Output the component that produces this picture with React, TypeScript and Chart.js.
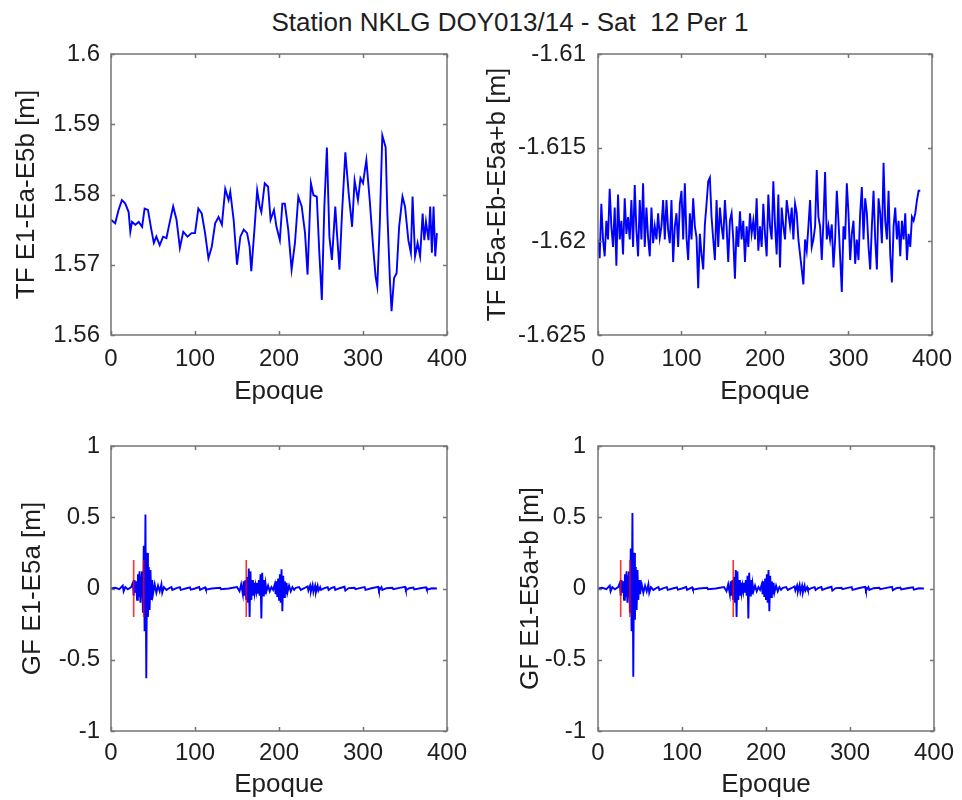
import React, { useEffect, useRef } from "react";
import { Chart, registerables } from "chart.js";

Chart.register(...registerables);

const FONT = "'Liberation Sans', Arial, Helvetica, sans-serif";
const TEXT = "#1e1e1e";
const AXIS = "#747474";
const BLUE = "#0000ff";
const RED = "rgba(255,0,0,0.8)";

const figureTitle = "Station NKLG DOY013/14 - Sat  12 Per 1";
const xTitle = "Epoque";

const xTicks = [0, 100, 200, 300, 400];
const xTickLabels = ["0", "100", "200", "300", "400"];

const tlTicks = [1.56, 1.57, 1.58, 1.59, 1.6];
const tlTickLabels = ["1.56", "1.57", "1.58", "1.59", "1.6"];
const trTicks = [-1.625, -1.62, -1.615, -1.61];
const trTickLabels = ["-1.625", "-1.62", "-1.615", "-1.61"];
const gfTicks = [-1, -0.5, 0, 0.5, 1];
const gfTickLabels = ["-1", "-0.5", "0", "0.5", "1"];

// TF E1-Ea-E5b
const tlEpoch = [0,5,9,13,17,21,23,25,29,33,37,40,44,48,51,54,58,62,66,70,74,78,82,86,91,96,100,104,108,112,116,120,124,128,132,136,140,142,146,150,154,158,162,165,167,171,174,177,179,183,187,190,194,197,201,204,207,211,215,219,223,227,231,234,238,241,245,248,251,254,257,260,263,267,269,272,275,279,283,287,290,294,297,300,304,308,312,315,317,320,323,327,329,332,334,337,340,343,347,350,354,357,359,362,365,368,371,373,375,378,380,382,384,386,388];
const tlValue = [1.5764,1.5759,1.5778,1.5792,1.5787,1.5775,1.5747,1.5761,1.5757,1.5761,
1.5754,1.5780,1.5778,1.5750,1.5731,1.5740,1.5728,1.5740,1.5738,1.5761,
1.5783,1.5764,1.5724,1.5747,1.5740,1.5745,1.5745,1.5780,1.5773,1.5745,
1.5709,1.5726,1.5759,1.5768,1.5757,1.5808,1.5792,1.5804,1.5764,1.5700,
1.5740,1.5750,1.5745,1.5726,1.5691,1.5754,1.5806,1.5783,1.5775,1.5816,
1.5811,1.5764,1.5778,1.5754,1.5735,1.5787,1.5787,1.5750,1.5693,1.5731,
1.5797,1.5783,1.5745,1.5686,1.5816,1.5799,1.5797,1.5717,1.5650,1.5783,
1.5867,1.5740,1.5707,1.5783,1.5745,1.5693,1.5773,1.5860,1.5801,1.5754,
1.5820,1.5792,1.5823,1.5816,1.5849,1.5792,1.5726,1.5683,1.5669,1.5759,
1.5884,1.5867,1.5773,1.5679,1.5634,1.5681,1.5688,1.5754,1.5797,1.5783,
1.5735,1.5717,1.5797,1.5712,1.5731,1.5712,1.5773,1.5735,1.5761,1.5735,
1.5783,1.5717,1.5783,1.5712,1.5745];

// TF E5a-Eb-E5a+b
const trEpoch = [0,2,4,6,8,10,12,14,16,18,20,22,24,26,28,30,32,34,36,38,40,42,44,46,48,50,52,54,56,58,60,62,64,66,68,70,72,74,76,78,80,82,84,86,88,90,92,94,96,98,100,102,104,106,108,110,112,114,116,118,120,122,124,126,128,130,132,134,136,138,140,142,144,146,148,150,152,154,156,158,160,162,164,166,168,170,172,174,176,178,180,182,184,186,188,190,192,194,196,198,200,202,204,206,208,210,212,214,216,218,220,222,224,226,228,230,232,234,236,238,240,242,244,246,248,250,252,254,256,258,260,262,264,266,268,270,272,274,276,278,280,282,284,286,288,290,292,294,296,298,300,302,304,306,308,310,312,314,316,318,320,322,324,326,328,330,332,334,336,338,340,342,344,346,348,350,352,354,356,358,360,362,364,366,368,370,372,374,376,378,380,382,384,386];
const trValue = [
-1.6199,-1.6209,-1.6180,-1.6199,-1.6208,-1.6189,-1.6199,-1.6172,-1.6192,-1.6203,
-1.6182,-1.6213,-1.6175,-1.6199,-1.6189,-1.6207,-1.6177,-1.6196,-1.6187,-1.6199,
-1.6178,-1.6203,-1.6170,-1.6194,-1.6208,-1.6178,-1.6199,-1.6169,-1.6203,-1.6182,
-1.6198,-1.6208,-1.6182,-1.6201,-1.6192,-1.6199,-1.6185,-1.6198,-1.6192,-1.6178,
-1.6199,-1.6178,-1.6194,-1.6201,-1.6178,-1.6211,-1.6192,-1.6185,-1.6203,
-1.6180,-1.6173,-1.6199,-1.6169,-1.6198,-1.6210,-1.6185,-1.6199,-1.6177,-1.6192,
-1.6198,-1.6225,-1.6196,-1.6207,-1.6215,-1.6191,-1.6180,-1.6168,-1.6166,-1.6187,
-1.6199,-1.6210,-1.6178,-1.6203,-1.6182,-1.6192,-1.6199,-1.6178,-1.6192,-1.6211,
-1.6189,-1.6185,-1.6199,-1.6220,-1.6192,-1.6203,-1.6184,-1.6199,-1.6189,-1.6211,
-1.6192,-1.6203,-1.6185,-1.6196,-1.6189,-1.6199,-1.6177,-1.6205,
-1.6192,-1.6203,-1.6180,-1.6196,-1.6208,-1.6175,-1.6192,-1.6199,-1.6168,-1.6191,
-1.6207,-1.6175,-1.6214,-1.6182,-1.6192,-1.6199,-1.6178,-1.6185,-1.6192,-1.6182,
-1.6199,-1.6180,-1.6185,-1.6199,-1.6207,-1.6215,-1.6223,-1.6199,-1.6205,-1.6192,
-1.6178,-1.6203,-1.6199,-1.6192,-1.6162,-1.6187,-1.6192,-1.6210,-1.6189,-1.6163,
-1.6199,-1.6192,-1.6199,-1.6191,-1.6214,-1.6199,-1.6173,-1.6189,
-1.6208,-1.6227,-1.6192,-1.6199,-1.6169,-1.6185,-1.6210,-1.6196,-1.6189,-1.6212,
-1.6199,-1.6210,-1.6185,-1.6171,-1.6199,-1.6177,-1.6185,-1.6203,-1.6215,-1.6192,
-1.6173,-1.6199,-1.6215,-1.6177,-1.6185,-1.6201,-1.6158,-1.6189,-1.6199,-1.6173,
-1.6207,-1.6222,-1.6192,-1.6182,-1.6199,-1.6189,-1.6208,-1.6189,-1.6199,-1.6185,
-1.6210,-1.6196,-1.6203,-1.6187,-1.6189,-1.6185,-1.6178,-1.6173,-1.6173];

// GF series (shared epochs)
const gfEpoch = [0,5,10,14,15,17,20,24,26,27,28,29,30,31,32,33,34,35,36,37,38,39,40,41,42,43,44,45,46,47,48,49,50,52,54,56,58,60,61,63,66,70,72,73,78,82,83,90,94,95,100,105,106,112,113,120,130,131,140,150,153,155,157,158,159,160,161,162,163,164,165,166,167,168,169,170,171,172,173,174,175,176,177,178,179,180,181,182,183,184,185,187,189,191,193,195,196,197,198,199,200,201,202,203,204,205,206,207,208,209,210,212,214,216,218,220,224,226,230,234,235,237,238,240,241,243,244,246,247,249,250,254,258,259,262,266,267,272,278,279,283,290,291,296,302,303,310,318,319,322,323,328,335,336,342,350,351,355,360,361,368,375,376,382,388];
const gfE5a = [0,0.005,-0.005,0.02,-0.02,0.01,-0.005,0.01,0.04,-0.05,
0.06,-0.03,0.05,-0.08,0.1,-0.06,0.12,-0.1,0.05,0.12,
-0.17,0.3,-0.3,0.52,-0.63,0.25,-0.2,0.15,-0.15,0.13,
-0.08,0.06,-0.04,0.03,-0.03,0.02,-0.02,0.03,-0.03,0.01,
-0.01,0.005,0.01,-0.01,0.003,0.01,-0.01,0.002,0.008,-0.008,
0,0.01,-0.01,0.008,-0.008,0,0.005,-0.005,0,0.01,
-0.02,0.03,-0.04,0.05,-0.05,0.06,-0.08,0.08,-0.1,0.14,
-0.2,0.12,-0.08,0.06,-0.05,0.04,-0.03,0.02,-0.02,0.04,
-0.03,0.06,-0.05,0.1,-0.21,0.11,-0.05,0.06,-0.04,0.03,
-0.02,0.02,-0.02,0.01,-0.01,0.03,-0.04,0.05,-0.06,0.07,
-0.08,0.1,-0.1,0.135,-0.16,0.09,-0.06,0.05,-0.04,0.04,
-0.03,0.02,-0.02,0.01,-0.01,0.005,0.01,-0.01,0.002,0.015,
-0.015,0.02,-0.02,0.025,-0.025,0.02,-0.025,0.02,-0.015,0.01,
-0.01,0.003,0.01,-0.01,0.002,0.01,-0.01,0.002,0.012,-0.015,
0.003,0.005,-0.005,0.003,0.01,-0.01,0.002,0.012,-0.015,0.01,
-0.01,0.002,0.005,-0.005,0.003,0.012,-0.012,0.002,0.006,-0.006,
0.002,0.008,-0.008,0.002,0];
const gfE5ab = [0,0.005,-0.005,0.02,-0.02,0.01,-0.005,0.01,0.04,-0.05,
0.06,-0.03,0.05,-0.08,0.1,-0.06,0.12,-0.1,0.05,0.12,
-0.17,0.28,-0.3,0.53,-0.62,0.25,-0.22,0.15,-0.15,0.13,
-0.08,0.06,-0.04,0.03,-0.03,0.02,-0.02,0.03,-0.03,0.01,
-0.01,0.005,0.01,-0.01,0.003,0.01,-0.01,0.002,0.008,-0.008,
0,0.01,-0.01,0.008,-0.008,0,0.005,-0.005,0,0.01,
-0.02,0.03,-0.04,0.05,-0.05,0.06,-0.08,0.08,-0.1,0.13,
-0.2,0.12,-0.08,0.06,-0.05,0.04,-0.03,0.02,-0.02,0.04,
-0.03,0.06,-0.05,0.09,-0.21,0.11,-0.05,0.06,-0.04,0.03,
-0.02,0.02,-0.02,0.01,-0.01,0.03,-0.04,0.05,-0.06,0.07,
-0.08,0.1,-0.1,0.13,-0.16,0.09,-0.06,0.05,-0.04,0.04,
-0.03,0.02,-0.02,0.01,-0.01,0.005,0.01,-0.01,0.002,0.015,
-0.015,0.02,-0.02,0.025,-0.025,0.02,-0.025,0.02,-0.015,0.01,
-0.01,0.003,0.01,-0.01,0.002,0.01,-0.01,0.002,0.012,-0.015,
0.003,0.005,-0.005,0.003,0.01,-0.01,0.002,0.012,-0.015,0.01,
-0.01,0.002,0.005,-0.005,0.003,0.012,-0.012,0.002,0.006,-0.006,
0.002,0.008,-0.008,0.002,0];

// cycle-slip markers (red)
const slipE5a = [27, 39, 161];
const slipE5ab = [27, 38, 161];
const slipHalfHeight = 0.2;

const boxPlugin = {
  id: "matlabBox",
  afterDatasetsDraw(chart: any) {
    const { ctx, chartArea: a, scales } = chart;
    const x = scales.x, y = scales.y;
    const L = 4;
    ctx.save();
    ctx.strokeStyle = AXIS;
    ctx.lineWidth = 1.5;
    ctx.beginPath();
    x.ticks.forEach((t: any) => {
      const px = Math.round(x.getPixelForValue(t.value)) + 0.5;
      ctx.moveTo(px, a.bottom); ctx.lineTo(px, a.bottom - L);
      ctx.moveTo(px, a.top); ctx.lineTo(px, a.top + L);
    });
    y.ticks.forEach((t: any) => {
      const py = Math.round(y.getPixelForValue(t.value)) + 0.5;
      ctx.moveTo(a.left, py); ctx.lineTo(a.left + L, py);
      ctx.moveTo(a.right, py); ctx.lineTo(a.right - L, py);
    });
    ctx.stroke();
    ctx.strokeRect(a.left, a.top, a.right - a.left, a.bottom - a.top);
    ctx.restore();
  },
};

function lineData(xs: number[], ys: number[]) {
  return xs.map((x, i) => ({ x, y: ys[i] }));
}
function slipData(epochs: number[]) {
  const out: any[] = [];
  epochs.forEach((e) => {
    out.push({ x: e, y: -slipHalfHeight }, { x: e, y: slipHalfHeight }, { x: e, y: null });
  });
  return out;
}

type PanelProps = {
  left: number; top: number; width: number; height: number;
  padTop: number; padRight: number;
  yAxisW: number; xAxisH: number;
  yTickPad: number; yTitlePad: number; xTickPad: number; xTitlePad: number;
  yTitle: string; yMin: number; yMax: number; yTicks: number[]; yTickLabels: string[];
  datasets: any[];
};

function Panel(p: PanelProps) {
  const ref = useRef<HTMLCanvasElement>(null);
  useEffect(() => {
    const chart = new Chart(ref.current as HTMLCanvasElement, {
      type: "line",
      data: { datasets: p.datasets },
      options: {
        animation: false,
        responsive: false,
        maintainAspectRatio: false,
        events: [],
        layout: { padding: { left: 0, top: p.padTop, right: p.padRight, bottom: 0 } },
        plugins: { legend: { display: false }, tooltip: { enabled: false }, title: { display: false } },
        elements: { point: { radius: 0 }, line: { tension: 0 } },
        scales: {
          x: {
            type: "linear",
            min: 0,
            max: 400,
            grid: { display: false, drawTicks: false },
            border: { display: false },
            afterBuildTicks: (s: any) => { s.ticks = xTicks.map((v) => ({ value: v })); },
            afterFit: (s: any) => { s.height = p.xAxisH; },
            ticks: {
              autoSkip: false, maxRotation: 0, padding: p.xTickPad, color: TEXT,
              font: { family: FONT, size: 24 },
              callback: (_v: any, i: number) => xTickLabels[i],
            },
            title: {
              display: true, text: xTitle, color: TEXT,
              font: { family: FONT, size: 26 }, padding: { top: 0, bottom: p.xTitlePad },
            },
          },
          y: {
            type: "linear",
            min: p.yMin,
            max: p.yMax,
            grid: { display: false, drawTicks: false },
            border: { display: false },
            afterBuildTicks: (s: any) => { s.ticks = p.yTicks.map((v) => ({ value: v })); },
            afterFit: (s: any) => { s.width = p.yAxisW; },
            ticks: {
              autoSkip: false, padding: p.yTickPad, color: TEXT,
              font: { family: FONT, size: 24 },
              callback: (_v: any, i: number) => p.yTickLabels[i],
            },
            title: {
              display: true, text: p.yTitle, color: TEXT,
              font: { family: FONT, size: 26 }, padding: { top: p.yTitlePad, bottom: 0 },
            },
          },
        },
      } as any,
      plugins: [boxPlugin as any],
    });
    return () => chart.destroy();
  }, []);
  return (
    <canvas
      ref={ref}
      width={p.width}
      height={p.height}
      style={{ position: "absolute", left: p.left, top: p.top, width: p.width, height: p.height }}
    />
  );
}

const blueLine = (data: any[]) => ({
  data, borderColor: BLUE, borderWidth: 1.9, pointRadius: 0, fill: false, tension: 0,
});
const redLine = (data: any[]) => ({
  data, borderColor: RED, borderWidth: 1.6, pointRadius: 0, fill: false, spanGaps: false,
});

export default function App() {
  return (
    <div style={{ position: "absolute", left: 0, top: 0, width: 962, height: 800, background: "#fff", overflow: "hidden" }}>
      <div
        style={{
          position: "absolute", left: 0, top: 7, width: 1020, textAlign: "center",
          fontFamily: FONT, fontSize: 26, lineHeight: "30px", color: TEXT, whiteSpace: "pre",
        }}
      >
        {figureTitle}
      </div>
      <Panel
        left={0} top={20} width={480} height={400} padTop={34} padRight={33}
        yAxisW={111} xAxisH={85} yTickPad={11} yTitlePad={11} xTickPad={10} xTitlePad={13}
        yTitle="TF E1-Ea-E5b [m]" yMin={1.56} yMax={1.6} yTicks={tlTicks} yTickLabels={tlTickLabels}
        datasets={[blueLine(lineData(tlEpoch, tlValue))]}
      />
      <Panel
        left={480} top={20} width={482} height={400} padTop={34} padRight={25}
        yAxisW={118} xAxisH={85} yTickPad={12} yTitlePad={2} xTickPad={10} xTitlePad={13}
        yTitle="TF E5a-Eb-E5a+b [m]" yMin={-1.625} yMax={-1.61} yTicks={trTicks} yTickLabels={trTickLabels}
        datasets={[blueLine(lineData(trEpoch, trValue))]}
      />
      <Panel
        left={0} top={410} width={480} height={390} padTop={36} padRight={33}
        yAxisW={111} xAxisH={69} yTickPad={11} yTitlePad={17} xTickPad={8} xTitlePad={0}
        yTitle="GF E1-E5a [m]" yMin={-1} yMax={1} yTicks={gfTicks} yTickLabels={gfTickLabels}
        datasets={[redLine(slipData(slipE5a)), blueLine(lineData(gfEpoch, gfE5a))]}
      />
      <Panel
        left={480} top={410} width={482} height={390} padTop={36} padRight={25}
        yAxisW={118} xAxisH={69} yTickPad={12} yTitlePad={35} xTickPad={8} xTitlePad={0}
        yTitle="GF E1-E5a+b [m]" yMin={-1} yMax={1} yTicks={gfTicks} yTickLabels={gfTickLabels}
        datasets={[redLine(slipData(slipE5ab)), blueLine(lineData(gfEpoch, gfE5ab))]}
      />
    </div>
  );
}
